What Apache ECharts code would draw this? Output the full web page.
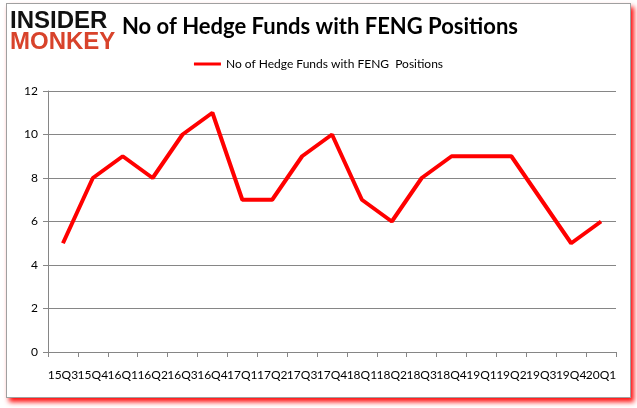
<!DOCTYPE html>
<html><head><meta charset="utf-8">
<script src="https://cdn.jsdelivr.net/npm/echarts@6/dist/echarts.min.js"></script>
<style>
html,body{margin:0;padding:0;background:#fff}
#frame{position:absolute;left:6px;top:3px;width:623px;height:393px;border:1px solid #a0a0a0;background:#fff;box-shadow:3px 4px 5px rgba(255,0,0,0.95)}
#c{position:absolute;left:0;top:0;width:637px;height:408px}
</style>
</head><body><div id="frame"></div><div id="c"></div>
<script>
const categories = ['15Q3','15Q4','16Q1','16Q2','16Q3','16Q4','17Q1','17Q2','17Q3','17Q4','18Q1','18Q2','18Q3','18Q4','19Q1','19Q2','19Q3','19Q4','20Q1'];
const funds = [5,8,9,8,10,11,7,7,9,10,7,6,8,9,9,9,7,5,6];
const seriesName = 'No of Hedge Funds with FENG  Positions';
const titleText = 'No of Hedge Funds with FENG Positions';

const chart = echarts.init(document.getElementById('c'), null, {renderer:'canvas'});
chart.setOption({
  animation:false,
  backgroundColor:'transparent',
  graphic:[
    {type:'text', x:10, y:21, style:{text:'INSIDER', font:'bold 24px "Liberation Sans", sans-serif', fill:'#111', textVerticalAlign:'middle'}},
    {type:'text', x:10, y:42, style:{text:'MONKEY', font:'bold 24px "Liberation Sans", sans-serif', fill:'#d8432b', textVerticalAlign:'middle'}},
    {type:'text', x:122, y:27, style:{text:titleText, font:'bold 22px Lato, sans-serif', fill:'#000', textVerticalAlign:'middle'}}
  ],
  legend:{top:53, left:'center', data:[seriesName], icon:'rect', itemWidth:27, itemHeight:3, itemGap:4,
    textStyle:{fontFamily:'Lato', fontSize:12, color:'#000'}},
  grid:{left:48, right:21, top:91, bottom:56, containLabel:false},
  xAxis:{type:'category', data:categories, boundaryGap:true,
    axisLine:{lineStyle:{color:'#868686'}},
    axisTick:{show:true, length:5, lineStyle:{color:'#868686'}},
    axisLabel:{interval:0, margin:17, fontFamily:'Lato', fontSize:12, color:'#000'}},
  yAxis:{type:'value', min:0, max:12, interval:2,
    axisLine:{show:true, lineStyle:{color:'#868686'}},
    axisTick:{show:true, length:5, lineStyle:{color:'#868686'}},
    splitLine:{lineStyle:{color:'#868686'}},
    axisLabel:{margin:10, fontFamily:'Lato', fontSize:12, color:'#000'}},
  series:[{name:seriesName, type:'line', data:funds, symbol:'none', lineStyle:{color:'#ff0000', width:4}, itemStyle:{color:'#ff0000'}}]
});
</script></body></html>
